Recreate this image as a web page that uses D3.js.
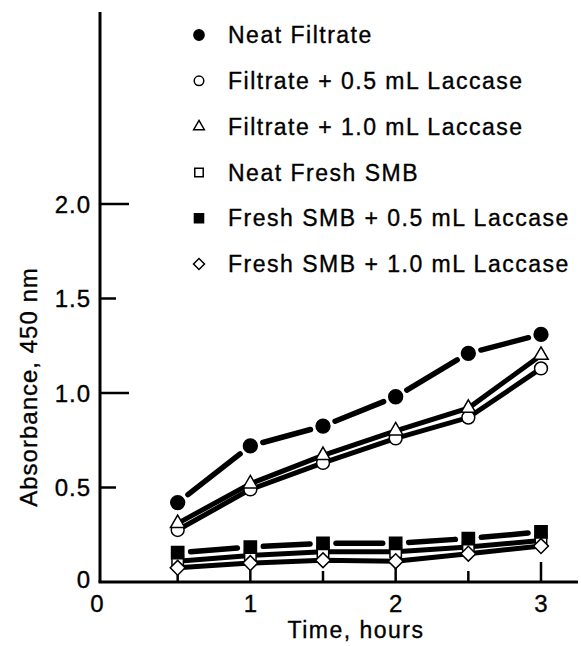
<!DOCTYPE html>
<html>
<head>
<meta charset="utf-8">
<script src="https://cdn.jsdelivr.net/npm/d3@7"></script>
<style>
  body { margin: 0; background: #fff; }
  text { font-family: 'Liberation Sans', Arial, sans-serif; fill: #000; stroke: #000; stroke-width: 0.35px; }
</style>
</head>
<body>
<svg id="grafico"></svg>
<script>
var tempos = [0.5, 1, 1.5, 2, 2.5, 3];
var neatFiltrate = [0.42, 0.72, 0.825, 0.98, 1.21, 1.31];
var filtrate05 = [0.275, 0.49, 0.63, 0.76, 0.87, 1.13];
var filtrate10 = [0.31, 0.52, 0.67, 0.80, 0.92, 1.20];
var neatFreshSMB = [0.11, 0.14, 0.16, 0.16, 0.185, 0.22];
var freshSMB05 = [0.155, 0.185, 0.205, 0.205, 0.23, 0.265];
var freshSMB10 = [0.075, 0.10, 0.115, 0.11, 0.15, 0.19];

var nomesSeries = ['Neat Filtrate', 'Filtrate + 0.5 mL Laccase', 'Filtrate + 1.0 mL Laccase',
                   'Neat Fresh SMB', 'Fresh SMB + 0.5 mL Laccase', 'Fresh SMB + 1.0 mL Laccase'];
var ticksY = [0, 0.5, 1.0, 1.5, 2.0];
var rotulosY = ['0', '0.5', '1.0', '1.5', '2.0'];
var ticksX = [0.5, 1, 1.5, 2, 2.5, 3];
var rotulosX = [0, 1, 2, 3];

function grafico(parametros) {
    var svg = d3.select(parametros.seletor)
                .attr('width', parametros.largura)
                .attr('height', parametros.altura);

    var x = d3.scaleLinear().domain([0, 3]).range([105, 541]);
    var y = d3.scaleLinear().domain([0, 2]).range([582, 204]);

    // marcadores: forma, preenchimento, tamanho, linha interrompida
    var estilos = [
      {forma: d3.symbolCircle, cheio: true,  area: 150, gap: true},
      {forma: d3.symbolCircle, cheio: false, area: 130, gap: false},
      {forma: d3.symbolTriangle, cheio: false, area: 90, gap: false},
      {forma: d3.symbolSquare, cheio: false, area: 130, gap: false},
      {forma: d3.symbolSquare, cheio: true,  area: 150, gap: true},
      {forma: d3.symbolSquare, cheio: false, area: 110, gap: false, rot: 45}
    ];

    var series = [neatFiltrate, filtrate05, filtrate10, neatFreshSMB, freshSMB05, freshSMB10]
      .map((vals, i) => ({nome: nomesSeries[i], estilo: estilos[i],
                          pontos: vals.map((v, j) => ({t: tempos[j], v: v}))}));

    // eixos
    svg.append('line')
       .attr('x1', 100).attr('x2', 100)
       .attr('y1', 12).attr('y2', y(0))
       .attr('stroke', '#000').attr('stroke-width', 3);
    svg.append('line')
       .attr('x1', 98.5).attr('x2', 578)
       .attr('y1', y(0)).attr('y2', y(0))
       .attr('stroke', '#000').attr('stroke-width', 3);

    svg.selectAll('.tickY')
      .data(ticksY.slice(1))
      .enter()
        .append('line')
        .attr('x1', 100)
        .attr('x2', d => (d % 1 === 0) ? 129 : 116)
        .attr('y1', d => y(d)).attr('y2', d => y(d))
        .attr('stroke', '#000').attr('stroke-width', 2.5);

    svg.selectAll('.rotuloY')
      .data(ticksY)
      .enter()
        .append('text')
        .attr('x', 91)
        .attr('y', d => y(d) - (d === 0 ? 3 : 0))
        .attr('dy', '0.36em')
        .style('text-anchor', 'end')
        .style('font-size', '24px')
        .style('letter-spacing', '1px')
        .text((d, i) => rotulosY[i]);

    svg.selectAll('.tickX')
      .data(ticksX)
      .enter()
        .append('line')
        .attr('x1', d => x(d)).attr('x2', d => x(d))
        .attr('y1', y(0))
        .attr('y2', d => y(0) - ((d % 1 === 0) ? 20 : 11))
        .attr('stroke', '#000').attr('stroke-width', 2.5);

    svg.selectAll('.rotuloX')
      .data(rotulosX)
      .enter()
        .append('text')
        .attr('x', d => d === 0 ? 97 : x(d))
        .attr('y', 612)
        .style('text-anchor', 'middle')
        .style('font-size', '24px')
        .text(d => d);

    svg.append('text')
       .attr('transform', 'translate(37,387) rotate(-90)')
       .style('text-anchor', 'middle')
       .style('font-size', '24px')
       .style('letter-spacing', '1px')
       .text('Absorbance, 450 nm');

    svg.append('text')
       .attr('x', 356).attr('y', 638)
       .style('text-anchor', 'middle')
       .style('font-size', '23px')
       .style('letter-spacing', '1.5px')
       .text('Time, hours');

    // linhas
    var linha = d3.line().x(d => x(d.t)).y(d => y(d.v));
    series.forEach(function(s) {
      if (s.estilo.gap) {
        var segs = d3.pairs(s.pontos);
        svg.selectAll(null)
          .data(segs)
          .enter()
            .append('path')
            .attr('d', function(p) {
              var x1 = x(p[0].t), y1 = y(p[0].v), x2 = x(p[1].t), y2 = y(p[1].v);
              var dx = x2 - x1, dy = y2 - y1, len = Math.sqrt(dx * dx + dy * dy);
              var g = 13;
              return 'M' + (x1 + dx * g / len) + ',' + (y1 + dy * g / len) +
                     'L' + (x2 - dx * g / len) + ',' + (y2 - dy * g / len);
            })
            .attr('stroke', '#000')
            .attr('stroke-width', 5.5)
            .attr('stroke-linecap', 'round');
      } else {
        svg.append('path')
           .datum(s.pontos)
           .attr('d', linha)
           .attr('fill', 'none')
           .attr('stroke', '#000')
           .attr('stroke-width', 5);
      }
    });

    // marcadores
    series.forEach(function(s) {
      svg.selectAll(null)
        .data(s.pontos)
        .enter()
          .append('path')
          .attr('d', d3.symbol().type(s.estilo.forma).size(s.estilo.area))
          .attr('transform', d => 'translate(' + x(d.t) + ',' + y(d.v) + ')' +
                                   (s.estilo.rot ? ' rotate(' + s.estilo.rot + ')' : ''))
          .attr('fill', s.estilo.cheio ? '#000' : '#fff')
          .attr('stroke', '#000')
          .attr('stroke-width', 1.5);
    });

    // legenda
    var legenda = svg.selectAll('.legenda')
      .data(series)
      .enter()
        .append('g')
        .attr('transform', (d, i) => 'translate(199,' + (35 + i * 45.8) + ')');

    legenda.append('path')
           .attr('d', d => d3.symbol().type(d.estilo.forma).size(d.estilo.area * 0.55)())
           .attr('transform', d => d.estilo.rot ? 'rotate(' + d.estilo.rot + ')' : null)
           .attr('fill', d => d.estilo.cheio ? '#000' : '#fff')
           .attr('stroke', '#000')
           .attr('stroke-width', 1.5);

    legenda.append('text')
           .attr('x', 29)
           .attr('dy', '0.36em')
           .style('font-size', '23px')
           .style('letter-spacing', '1.5px')
           .text(d => d.nome);
}

grafico({seletor: '#grafico', largura: 581, altura: 646});
</script>
</body>
</html>
